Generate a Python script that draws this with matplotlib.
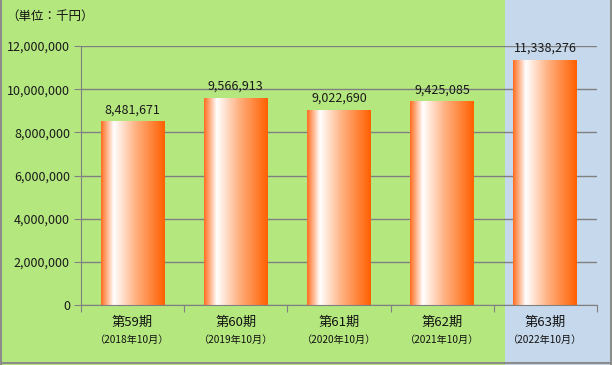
import numpy as np
import matplotlib
matplotlib.use("Agg")
import matplotlib.pyplot as plt
from matplotlib.patches import Rectangle
from matplotlib.colors import LinearSegmentedColormap

plt.rcParams['font.family'] = ['Noto Sans CJK JP', 'DejaVu Sans']

# --- data ---
periods = ['第59期', '第60期', '第61期', '第62期', '第63期']
dates = ['（2018年10月）', '（2019年10月）', '（2020年10月）', '（2021年10月）', '（2022年10月）']
values = [8481671, 9566913, 9022690, 9425085, 11338276]
yticks = [0, 2000000, 4000000, 6000000, 8000000, 10000000, 12000000]

W, H = 612, 365
GREEN = '#b5e77f'
BLUE = '#c6d8ec'

fig = plt.figure(figsize=(W / 100, H / 100), dpi=100)
fig.patch.set_facecolor(GREEN)

# blue highlight panel for the latest period
fig.add_artist(Rectangle((505 / W, 0), (610 - 505) / W, 1,
                         transform=fig.transFigure, facecolor=BLUE,
                         edgecolor='none', zorder=-5))
# outer border
for xs, ys in [((0.5 / W, 0.5 / W), (0, 1)),
               ((610.5 / W, 610.5 / W), (0, 1)),
               ((0, 611 / W), (2 / H, 2 / H))]:
    fig.add_artist(plt.Line2D(xs, ys, color='#8c8c8c', lw=1.5,
                              transform=fig.transFigure, zorder=10))

ax = fig.add_axes([81 / W, 1 - 305 / H, (597 - 81) / W, (305 - 46) / H])
ax.set_facecolor('none')

for s in ['top', 'right']:
    ax.spines[s].set_visible(False)
for s in ['left', 'bottom']:
    ax.spines[s].set_color('#808080')

ax.set_yticks(yticks)
ax.set_yticklabels([f'{v:,}' for v in yticks], fontsize=9, color='#1a1a1a')
ax.yaxis.grid(True, color='#808080', lw=1)
ax.set_axisbelow(True)
ax.tick_params(axis='y', length=5, color='#808080', pad=3)

ax.set_xticks(np.arange(-0.5, len(values), 1))
ax.set_xticklabels([])
ax.tick_params(axis='x', length=5, color='#808080')

# bar gradient: orange -> white -> orange
cmap = LinearSegmentedColormap.from_list('bar', [
    (0.0, '#ff6d1f'), (0.2, '#ffffff'), (0.55, '#ffb080'), (1.0, '#ff6000')])
grad = np.linspace(0, 1, 256).reshape(1, -1)
bw = 0.62
for i, v in enumerate(values):
    ax.imshow(grad, cmap=cmap, aspect='auto', zorder=2,
              extent=(i - bw / 2, i + bw / 2, 0, v))
    ax.text(i, v + 250000, f'{v:,}', ha='center', va='bottom', fontsize=9,
            color='#1a1a1a', zorder=3)
ax.set_xlim(-0.5, len(values) - 0.5)
ax.set_ylim(0, 12000000)

for i, (p, d) in enumerate(zip(periods, dates)):
    ax.annotate(p, (i, 0), xytext=(0, -17), textcoords='offset pixels',
                ha='center', va='center', fontsize=9.5, color='#111111',
                annotation_clip=False)
    ax.annotate(d, (i, 0), xytext=(0, -35), textcoords='offset pixels',
                ha='center', va='center', fontsize=7.3, color='#111111',
                annotation_clip=False)

fig.text(6 / W, 1 - 16 / H, '（単位：千円）', ha='left', va='center',
         fontsize=9, color='#111111')

fig.savefig('out.png', dpi=100, facecolor=fig.get_facecolor())
